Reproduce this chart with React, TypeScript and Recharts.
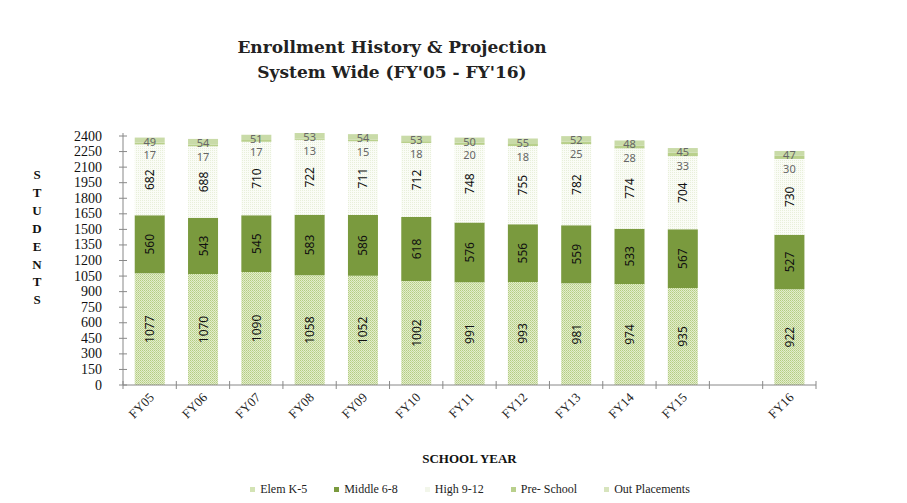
import React from "react";
import { BarChart, Bar, XAxis, YAxis, LabelList } from "recharts";

const years = ["FY05", "FY06", "FY07", "FY08", "FY09", "FY10", "FY11", "FY12", "FY13", "FY14", "FY15", "", "FY16"];
const elem = [1077, 1070, 1090, 1058, 1052, 1002, 991, 993, 981, 974, 935, null, 922];
const middle = [560, 543, 545, 583, 586, 618, 576, 556, 559, 533, 567, null, 527];
const high = [682, 688, 710, 722, 711, 712, 748, 755, 782, 774, 704, null, 730];
const preSchool = [17, 17, 17, 13, 15, 18, 20, 18, 25, 28, 33, null, 30];
const outPlacements = [49, 54, 51, 53, 54, 53, 50, 55, 52, 48, 45, null, 47];
const yTicks = [0, 150, 300, 450, 600, 750, 900, 1050, 1200, 1350, 1500, 1650, 1800, 1950, 2100, 2250, 2400];

const data = years.map((y, i) => ({
  year: y,
  elem: elem[i],
  middle: middle[i],
  high: high[i],
  pre: preSchool[i],
  out: outPlacements[i],
}));

const W = 907;
const H = 503;
const M = { top: 133, right: 91, left: 63, bottom: 88 };
const BAND = (W - M.left - 60 - M.right) / years.length;
const SERIF = "'Liberation Serif', 'DejaVu Serif', serif";
const SANS = "'Noto Sans', 'Liberation Sans', sans-serif";

const legendItems = [
  { name: "Elem K-5", fill: "#d3e3b4" },
  { name: "Middle 6-8", fill: "#7a9a3e" },
  { name: "High 9-12", fill: "#f2f6ea" },
  { name: "Pre- School", fill: "#b9d08c" },
  { name: "Out Placements", fill: "#d7e4bd" },
];

const vertLabel = (props: any) => {
  const { x, y, width, height, value } = props;
  if (value == null) return null;
  const cx = x + width / 2;
  const cy = y + height / 2;
  return (
    <text
      x={cx}
      y={cy}
      transform={`rotate(-90 ${cx} ${cy})`}
      textAnchor="middle"
      dominantBaseline="central"
      fontFamily={SANS}
      fontSize={12}
      fill="#111"
    >
      {value}
    </text>
  );
};

const smallLabel = (dy: number) => (props: any) => {
  const { x, y, width, height, value } = props;
  if (value == null) return null;
  return (
    <text
      x={x + width / 2}
      y={y + height / 2 + dy}
      textAnchor="middle"
      dominantBaseline="central"
      fontFamily={SANS}
      fontSize={11}
      fill="#666"
    >
      {value}
    </text>
  );
};

const XTick = (props: any) => {
  const { x, y, payload, index } = props;
  const left = x - BAND / 2;
  return (
    <g>
      <line x1={left} y1={y - 4} x2={left} y2={y + 4} stroke="#888" />
      {index === years.length - 1 && (
        <line x1={x + BAND / 2} y1={y - 4} x2={x + BAND / 2} y2={y + 4} stroke="#888" />
      )}
      {payload.value && (
        <text
          x={x + 2}
          y={y + 10}
          transform={`rotate(-45 ${x + 2} ${y + 10})`}
          textAnchor="end"
          dominantBaseline="central"
          fontFamily={SERIF}
          fontSize={13}
          fill="#222"
        >
          {payload.value}
        </text>
      )}
    </g>
  );
};

const YTick = (props: any) => {
  const { x, y, payload } = props;
  return (
    <g>
      <line x1={x - 4} y1={y} x2={x + 4} y2={y} stroke="#888" />
      <text
        x={x - 21}
        y={y}
        textAnchor="end"
        dominantBaseline="central"
        fontFamily={SERIF}
        fontSize={14}
        fill="#111"
      >
        {payload.value}
      </text>
    </g>
  );
};

export default function App() {
  return (
    <div style={{ position: "absolute", left: 0, top: 0, width: W, height: H, background: "#fff" }}>
      <div
        style={{
          position: "absolute",
          top: 35,
          left: 0,
          width: 784,
          textAlign: "center",
          fontFamily: "'DejaVu Serif', serif",
          fontWeight: "bold",
          fontSize: 17,
          lineHeight: "25px",
          color: "#222",
        }}
      >
        <div>Enrollment History &amp; Projection</div>
        <div>System Wide (FY'05 - FY'16)</div>
      </div>
      <div
        style={{
          position: "absolute",
          left: 30,
          top: 166,
          width: 14,
          textAlign: "center",
          fontFamily: SERIF,
          fontWeight: "bold",
          fontSize: 13,
          lineHeight: "17.9px",
          color: "#111",
        }}
      >
        {"STUDENTS".split("").map((c, i) => (
          <div key={i}>{c}</div>
        ))}
      </div>
      <div
        style={{
          position: "absolute",
          top: 451,
          left: 123,
          width: 693,
          textAlign: "center",
          fontFamily: SERIF,
          fontWeight: "bold",
          fontSize: 13,
          color: "#111",
        }}
      >
        SCHOOL YEAR
      </div>
      <div
        style={{
          position: "absolute",
          top: 482,
          left: 0,
          width: 940,
          display: "flex",
          justifyContent: "center",
          gap: 27,
          fontFamily: SERIF,
          fontSize: 12,
          color: "#222",
        }}
      >
        {legendItems.map((it) => (
          <span key={it.name} style={{ display: "flex", alignItems: "center", gap: 5 }}>
            <span style={{ width: 5, height: 5, background: it.fill, display: "inline-block" }} />
            {it.name}
          </span>
        ))}
      </div>
      <BarChart
        width={W}
        height={H}
        data={data}
        margin={M}
        barCategoryGap="22%"
        style={{ position: "absolute", left: 0, top: 0 }}
      >
        <defs>
          <pattern id="elemPat" width="2" height="2" patternUnits="userSpaceOnUse">
            <rect width="2" height="2" fill="#e3edcc" />
            <rect width="1" height="1" fill="#b4cd82" />
            <rect x="1" y="1" width="1" height="1" fill="#c3d89a" />
          </pattern>
          <pattern id="highPat" width="2" height="2" patternUnits="userSpaceOnUse">
            <rect width="2" height="2" fill="#fafcf6" />
            <rect width="1" height="1" fill="#e8efda" />
          </pattern>
        </defs>
        <XAxis
          dataKey="year"
          height={30}
          interval={0}
          tickSize={0}
          tickMargin={0}
          tick={<XTick />}
          axisLine={{ stroke: "#888" }}
          tickLine={false}
        />
        <YAxis
          width={60}
          domain={[0, 2400]}
          ticks={yTicks}
          interval={0}
          tickSize={0}
          tickMargin={0}
          tick={<YTick />}
          axisLine={{ stroke: "#888" }}
          tickLine={false}
        />
        <Bar dataKey="elem" stackId="a" fill="url(#elemPat)" isAnimationActive={false}>
          <LabelList dataKey="elem" content={vertLabel} />
        </Bar>
        <Bar dataKey="middle" stackId="a" fill="#7a9a3e" isAnimationActive={false}>
          <LabelList dataKey="middle" content={vertLabel} />
        </Bar>
        <Bar dataKey="high" stackId="a" fill="url(#highPat)" isAnimationActive={false}>
          <LabelList dataKey="high" content={vertLabel} />
        </Bar>
        <Bar dataKey="pre" stackId="a" fill="#b9d08c" isAnimationActive={false}>
          <LabelList dataKey="pre" content={smallLabel(11)} />
        </Bar>
        <Bar dataKey="out" stackId="a" fill="#c9dba8" isAnimationActive={false}>
          <LabelList dataKey="out" content={smallLabel(1)} />
        </Bar>
      </BarChart>
    </div>
  );
}
